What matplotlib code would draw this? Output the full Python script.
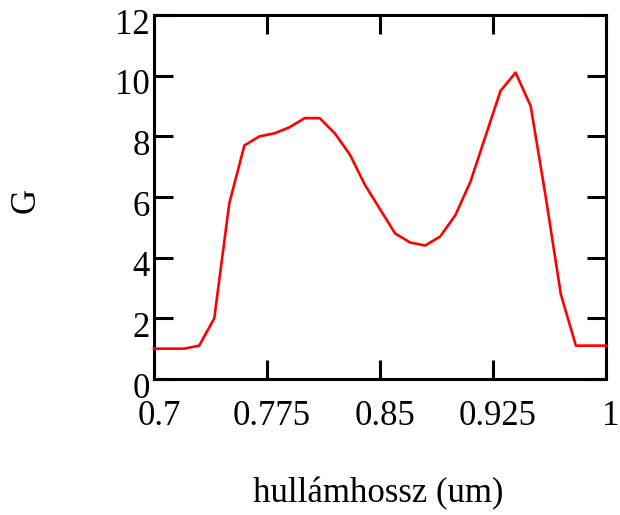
import matplotlib
matplotlib.use("Agg")
import matplotlib.pyplot as plt
import matplotlib.transforms as mtransforms

# Gain spectrum G versus wavelength
wavelength = [0.70, 0.71, 0.72, 0.73, 0.74, 0.75, 0.76, 0.77, 0.78, 0.79,
              0.80, 0.81, 0.82, 0.83, 0.84, 0.85, 0.86, 0.87, 0.88, 0.89,
              0.90, 0.91, 0.92, 0.93, 0.94, 0.95, 0.96, 0.97, 0.98, 0.99, 1.00]
gain = [1.0, 1.0, 1.0, 1.1, 2.0, 5.8, 7.7, 8.0, 8.1, 8.3,
        8.6, 8.6, 8.1, 7.4, 6.4, 5.6, 4.8, 4.5, 4.4, 4.7,
        5.4, 6.5, 8.0, 9.5, 10.1, 9.0, 6.0, 2.8, 1.1, 1.1, 1.1]

x_ticks = [0.7, 0.775, 0.85, 0.925, 1.0]
x_tick_labels = ["0.7", "0.775", "0.85", "0.925", "1"]
y_ticks = [0, 2, 4, 6, 8, 10, 12]
y_tick_labels = ["0", "2", "4", "6", "8", "10", "12"]

plt.rcParams["font.family"] = ["Liberation Serif", "DejaVu Serif"]

fig = plt.figure(figsize=(6.2, 5.15), dpi=100)
ax = fig.add_axes([154 / 620, 1 - 379 / 515, 452 / 620, 364 / 515])

ax.plot(wavelength, gain, color="#ff0000", lw=1.9, clip_on=False, zorder=3)

ax.set_xlim(0.7, 1.0)
ax.set_ylim(0, 12)
ax.set_xticks(x_ticks)
ax.set_xticklabels(x_tick_labels)
ax.set_yticks(y_ticks)
ax.set_yticklabels(y_tick_labels)

for s in ax.spines.values():
    s.set_linewidth(2.2)
    s.set_color("black")

ax.tick_params(axis="both", direction="in", length=13.5, width=2.2,
               top=True, right=True, labelsize=25, colors="black")
ax.tick_params(axis="x", pad=15)
ax.tick_params(axis="y", pad=3)

# shift tick labels slightly, as in the original layout
dy = mtransforms.ScaledTranslation(0, -6 / 100, fig.dpi_scale_trans)
for lab in ax.get_yticklabels():
    lab.set_transform(lab.get_transform() + dy)
dx = mtransforms.ScaledTranslation(5 / 100, 0, fig.dpi_scale_trans)
for lab in ax.get_xticklabels():
    lab.set_transform(lab.get_transform() + dx)

fig.text(378 / 620, 1 - 494 / 515, "hullámhossz (um)", fontsize=25,
         ha="center", va="center")
fig.text(26 / 620, 1 - 200 / 515, "G", fontsize=25, rotation=90,
         ha="center", va="center")

fig.savefig("out.png", dpi=100)
